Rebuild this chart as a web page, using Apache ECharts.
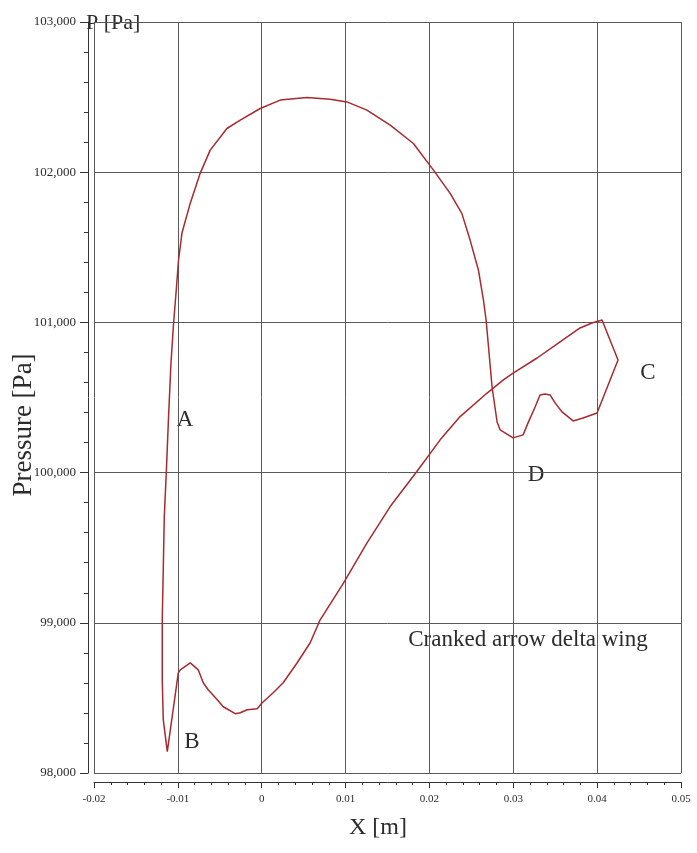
<!DOCTYPE html>
<html>
<head>
<meta charset="utf-8">
<script src="https://cdn.jsdelivr.net/npm/echarts/dist/echarts.min.js"></script>
<style>
  html, body { margin: 0; padding: 0; background: #fff; }
  #main { width: 697px; height: 853px; }
</style>
</head>
<body>
<div id="main"></div>
<script>
// closed loop: A side up, top arc, D wiggle, C, back along the lower line, B wiggle
const pathX = [
  -0.01126, -0.01174, -0.01186, -0.01186, -0.01174, -0.01162, -0.01138, -0.01111, -0.01082, -0.01051,
  -0.01019, -0.00992, -0.00951, -0.00852, -0.00733, -0.00614, -0.00415, -0.00256, -0.00018, 0.00220,
  0.00539, 0.00816, 0.01016, 0.01254, 0.01532, 0.01809, 0.02048, 0.02247, 0.02386, 0.02485,
  0.02584, 0.02644, 0.02676, 0.02747, 0.02807, 0.02843, 0.02998, 0.03117, 0.03176, 0.03260,
  0.03319, 0.03379, 0.03439, 0.03498, 0.03582, 0.03713, 0.03832, 0.03999, 0.04249, 0.04058,
  0.03939, 0.03796, 0.03558, 0.03284, 0.02998, 0.02882, 0.02684, 0.02366, 0.02128, 0.01850,
  0.01532, 0.01254, 0.00975, 0.00697, 0.00578, 0.00423, 0.00256, 0.00137, 0.00006, -0.00054,
  -0.00173, -0.00256, -0.00316, -0.00459, -0.00530, -0.00638, -0.00697, -0.00757, -0.00852, -0.00971,
  -0.00995, -0.01126
]
const pathP = [
  98142, 98355, 98621, 99020, 99353, 99705, 99998, 100371, 100730, 100996,
  101216, 101415, 101595, 101794, 101994, 102147, 102291, 102347, 102424, 102480,
  102498, 102486, 102468, 102413, 102313, 102191, 102014, 101859, 101726, 101548,
  101349, 101149, 101016, 100570, 100337, 100284, 100231, 100251, 100331, 100437,
  100517, 100524, 100517, 100464, 100404, 100344, 100364, 100397, 100750, 101016,
  100996, 100963, 100870, 100763, 100663, 100617, 100528, 100373, 100218, 100007,
  99774, 99530, 99264, 99020, 98867, 98734, 98601, 98534, 98468, 98428,
  98421, 98401, 98395, 98441, 98487, 98554, 98601, 98687, 98733, 98687,
  98667, 98142
]

const xRange = [-0.02, 0.05]
const xStep = 0.01
const pRange = [98000, 103000]
const pStep = 1000

const pointLabels = ['A', 'B', 'C', 'D']

const serif = 'Liberation Serif'
const textColor = '#2b2b2b'
const gridColor = '#5a5a5a'

var myChart = echarts.init(document.getElementById('main'))

var option = {
  backgroundColor: '#fff',
  animation: false,
  grid: {
    left: 94,
    right: 16,
    top: 22,
    bottom: 80,
  },
  xAxis: {
    type: 'value',
    min: xRange[0],
    max: xRange[1],
    interval: xStep,
    offset: 9,
    axisLine: { show: true, onZero: false, lineStyle: { color: '#333', width: 1 } },
    axisTick: { show: true, length: 6, lineStyle: { color: '#333' } },
    minorTick: { show: true, splitNumber: 5, length: 3, lineStyle: { color: '#333' } },
    axisLabel: {
      margin: 12,
      color: textColor,
      fontFamily: serif,
      fontSize: 11,
      formatter: (v) => (Math.abs(v) < 1e-9 ? '0' : String(+v.toFixed(2))),
    },
    splitLine: { show: true, lineStyle: { color: gridColor, width: 1 } },
  },
  yAxis: {
    type: 'value',
    min: pRange[0],
    max: pRange[1],
    interval: pStep,
    offset: 6,
    axisLine: { show: true, onZero: false, lineStyle: { color: '#333', width: 1 } },
    axisTick: { show: true, length: 8, lineStyle: { color: '#333' } },
    minorTick: { show: true, splitNumber: 5, length: 4, lineStyle: { color: '#333' } },
    axisLabel: {
      margin: 12,
      color: textColor,
      fontFamily: serif,
      fontSize: 13,
      formatter: (v) => v.toLocaleString('en-US'),
    },
    splitLine: { show: true, lineStyle: { color: gridColor, width: 1 } },
  },
  series: [
    {
      name: 'pressure',
      type: 'line',
      data: pathX.map((x, i) => [x, pathP[i]]),
      showSymbol: false,
      smooth: false,
      lineStyle: { color: '#a62a2f', width: 1.5 },
      silent: true,
    },
  ],
  graphic: [
    // axis titles
    { type: 'text', left: 86, top: 12, style: { text: 'P [Pa]', font: '22px "' + serif + '"', fill: textColor } },
    {
      type: 'text', x: 24, y: 425, rotation: Math.PI / 2,
      style: { text: 'Pressure [Pa]', font: '27px "' + serif + '"', fill: textColor, align: 'center', verticalAlign: 'middle' },
    },
    {
      type: 'text', x: 378, y: 828,
      style: { text: 'X [m]', font: '24px "' + serif + '"', fill: textColor, align: 'center', verticalAlign: 'middle' },
    },
    // point markers A-D
    { type: 'text', x: 185, y: 420, style: { text: pointLabels[0], font: '23px "' + serif + '"', fill: textColor, align: 'center', verticalAlign: 'middle' } },
    { type: 'text', x: 192, y: 742, style: { text: pointLabels[1], font: '23px "' + serif + '"', fill: textColor, align: 'center', verticalAlign: 'middle' } },
    { type: 'text', x: 648, y: 373, style: { text: pointLabels[2], font: '23px "' + serif + '"', fill: textColor, align: 'center', verticalAlign: 'middle' } },
    { type: 'text', x: 536, y: 475, style: { text: pointLabels[3], font: '23px "' + serif + '"', fill: textColor, align: 'center', verticalAlign: 'middle' } },
    {
      type: 'text', x: 528, y: 640,
      style: { text: 'Cranked arrow delta wing', font: '23px "' + serif + '"', fill: textColor, align: 'center', verticalAlign: 'middle' },
    },
  ],
}

option && myChart.setOption(option)
window.addEventListener('resize', function () {
  myChart.resize()
})
</script>
</body>
</html>
